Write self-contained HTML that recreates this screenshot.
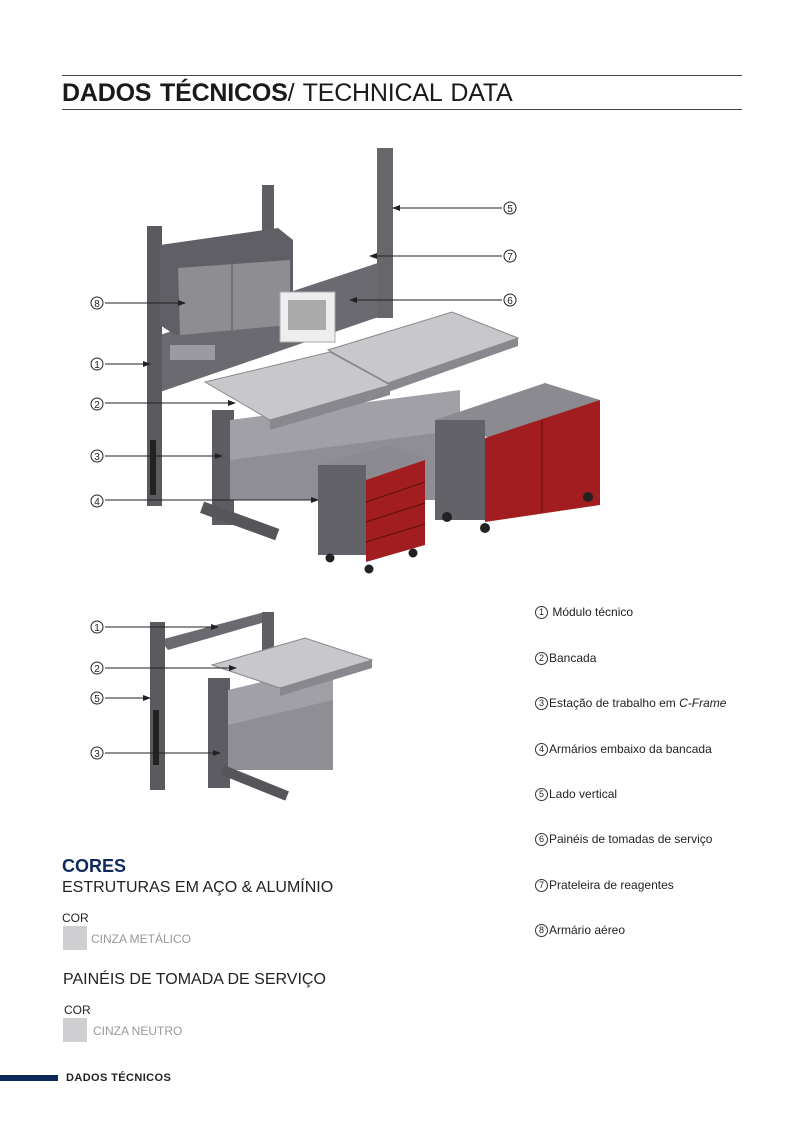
<!DOCTYPE html>
<html><head><meta charset="utf-8"><style>
body{margin:0;width:793px;height:1123px;background:#fff;position:relative;font-family:"Liberation Sans",sans-serif;overflow:hidden}
.a{position:absolute;white-space:nowrap}
.leg{font-size:12px;color:#222}
.c{display:inline-block;width:11px;height:11px;border:1px solid #333;border-radius:50%;font-size:9px;line-height:11px;text-align:center;vertical-align:middle;margin-right:1px}
</style></head><body>
<div class="a" style="left:62px;top:75px;width:680px;border-top:1.5px solid #444"></div>
<div class="a" style="left:62px;top:79px;font-size:25px;color:#1a1a1a;letter-spacing:-0.2px;word-spacing:2px"><b>DADOS TÉCNICOS</b>/ TECHNICAL DATA</div>
<div class="a" style="left:62px;top:109px;width:680px;border-top:1.5px solid #444"></div>

<svg class="a" style="left:0;top:0" width="793" height="1123">
<defs><marker id="ar" markerWidth="8" markerHeight="6" refX="7" refY="3" orient="auto"><path d="M0,0L8,3L0,6z" fill="#222"/></marker></defs>
<rect x="262" y="185" width="12" height="80" fill="#5d5d62"/>
<polygon points="160,335 393,258 393,312 160,392" fill="#6a6a70"/>
<rect x="147" y="226" width="15" height="280" fill="#5a5a5f"/>
<rect x="150" y="440" width="6" height="55" fill="#222"/>
<rect x="377" y="148" width="16" height="170" fill="#66666b"/>
<polygon points="160,245 278,228 293,240 293,325 175,335 160,325" fill="#5f5f65"/>
<polygon points="178,268 290,260 290,325 180,335" fill="#8d8d92"/>
<line x1="232" y1="264" x2="232" y2="330" stroke="#555"/>
<rect x="280" y="292" width="55" height="50" fill="#eee" stroke="#aaa"/>
<rect x="288" y="300" width="38" height="30" fill="#aaa"/>
<rect x="170" y="345" width="45" height="15" fill="#9a9aa0"/>
<rect x="212" y="410" width="22" height="115" fill="#5c5c62"/>
<rect x="230" y="420" width="230" height="80" fill="#8e8e94"/>
<polygon points="230,420 460,390 460,430 230,460" fill="#a0a0a6"/>
<rect x="200" y="515" width="80" height="12" fill="#55555a" transform="rotate(20 240 520)"/>
<polygon points="205,382 330,352 390,385 270,420" fill="#c8c8cc" stroke="#888"/>
<polygon points="328,350 452,312 518,338 388,383" fill="#c8c8cc" stroke="#888"/>
<polygon points="270,420 390,385 390,395 270,430" fill="#88888e"/>
<polygon points="388,383 518,338 518,346 388,392" fill="#88888e"/>
<polygon points="435,420 545,383 600,400 490,438" fill="#8a8a90"/>
<rect x="435" y="420" width="50" height="100" fill="#626268"/>
<polygon points="485,438 600,400 600,505 485,522" fill="#a21d1f"/>
<line x1="542" y1="420" x2="542" y2="513" stroke="#6a1010"/>
<circle cx="447" cy="517" r="5" fill="#222"/><circle cx="485" cy="528" r="5" fill="#222"/><circle cx="588" cy="497" r="5" fill="#222"/>
<polygon points="318,465 390,445 425,458 365,480" fill="#8a8a90"/>
<rect x="318" y="465" width="48" height="90" fill="#626268"/>
<polygon points="366,480 425,460 425,545 366,562" fill="#a21d1f"/>
<g stroke="#5a1010"><line x1="366" y1="502" x2="425" y2="482"/><line x1="366" y1="522" x2="425" y2="503"/><line x1="366" y1="542" x2="425" y2="524"/></g>
<circle cx="330" cy="558" r="4.5" fill="#222"/><circle cx="369" cy="569" r="4.5" fill="#222"/><circle cx="413" cy="553" r="4.5" fill="#222"/>
<polygon points="160,640 265,612 272,620 168,650" fill="#6a6a70"/>
<rect x="262" y="612" width="12" height="85" fill="#5d5d62"/>
<rect x="150" y="622" width="15" height="168" fill="#5a5a5f"/>
<rect x="153" y="710" width="6" height="55" fill="#222"/>
<rect x="208" y="678" width="22" height="110" fill="#5c5c62"/>
<rect x="228" y="690" width="105" height="80" fill="#8e8e94"/>
<polygon points="228,690 333,665 333,700 228,725" fill="#a0a0a6"/>
<rect x="220" y="778" width="70" height="10" fill="#55555a" transform="rotate(22 255 782)"/>
<polygon points="212,665 305,638 372,660 280,688" fill="#c8c8cc" stroke="#888"/>
<polygon points="280,688 372,660 372,668 280,696" fill="#88888e"/>
<g stroke="#222" stroke-width="1" fill="none" marker-end="url(#ar)">
<line x1="105" y1="303" x2="185" y2="303"/>
<line x1="105" y1="364" x2="150" y2="364"/>
<line x1="105" y1="403" x2="235" y2="403"/>
<line x1="105" y1="456" x2="222" y2="456"/>
<line x1="105" y1="500" x2="318" y2="500"/>
<line x1="502" y1="208" x2="393" y2="208"/>
<line x1="502" y1="256" x2="370" y2="256"/>
<line x1="502" y1="300" x2="350" y2="300"/>
<line x1="105" y1="627" x2="218" y2="627"/>
<line x1="105" y1="668" x2="236" y2="668"/>
<line x1="105" y1="698" x2="150" y2="698"/>
<line x1="105" y1="753" x2="220" y2="753"/>
</g>
<g font-family="Liberation Sans" font-size="10" text-anchor="middle" fill="#222">
<g fill="#fff" stroke="#222"><circle cx="97" cy="303" r="6"/><circle cx="97" cy="364" r="6"/><circle cx="97" cy="404" r="6"/><circle cx="97" cy="456" r="6"/><circle cx="97" cy="501" r="6"/><circle cx="510" cy="208" r="6"/><circle cx="510" cy="256" r="6"/><circle cx="510" cy="300" r="6"/><circle cx="97" cy="627" r="6"/><circle cx="97" cy="668" r="6"/><circle cx="97" cy="698" r="6"/><circle cx="97" cy="753" r="6"/></g>
<text x="97" y="307">8</text><text x="97" y="368">1</text><text x="97" y="408">2</text><text x="97" y="460">3</text><text x="97" y="505">4</text><text x="510" y="212">5</text><text x="510" y="260">7</text><text x="510" y="304">6</text><text x="97" y="631">1</text><text x="97" y="672">2</text><text x="97" y="702">5</text><text x="97" y="757">3</text>
</g>
</svg>

<div class="a leg" style="left:535px;top:605px"><span class="c">1</span> Módulo técnico</div>
<div class="a leg" style="left:535px;top:651px"><span class="c">2</span>Bancada</div>
<div class="a leg" style="left:535px;top:696px"><span class="c">3</span>Estação de trabalho em <i>C-Frame</i></div>
<div class="a leg" style="left:535px;top:742px"><span class="c">4</span>Armários embaixo da bancada</div>
<div class="a leg" style="left:535px;top:787px"><span class="c">5</span>Lado vertical</div>
<div class="a leg" style="left:535px;top:832px"><span class="c">6</span>Painéis de tomadas de serviço</div>
<div class="a leg" style="left:535px;top:878px"><span class="c">7</span>Prateleira de reagentes</div>
<div class="a leg" style="left:535px;top:923px"><span class="c">8</span>Armário aéreo</div>

<div class="a" style="left:62px;top:856px;font-size:18px;font-weight:bold;color:#0d2a5c">CORES</div>
<div class="a" style="left:62px;top:879px;font-size:16px;color:#222">ESTRUTURAS EM AÇO &amp; ALUMÍNIO</div>
<div class="a" style="left:62px;top:911px;font-size:12px;color:#222">COR</div>
<div class="a" style="left:63px;top:926px;width:24px;height:24px;background:#cfcfd1"></div>
<div class="a" style="left:91px;top:932px;font-size:12px;color:#999">CINZA METÁLICO</div>
<div class="a" style="left:63px;top:971px;font-size:16px;color:#222">PAINÉIS DE TOMADA DE SERVIÇO</div>
<div class="a" style="left:64px;top:1003px;font-size:12px;color:#222">COR</div>
<div class="a" style="left:63px;top:1018px;width:24px;height:24px;background:#cfcfd1"></div>
<div class="a" style="left:93px;top:1024px;font-size:12px;color:#999">CINZA NEUTRO</div>
<div class="a" style="left:0;top:1075px;width:58px;height:6px;background:#0d2a5c"></div>
<div class="a" style="left:66px;top:1072px;font-size:11px;font-weight:bold;color:#222;letter-spacing:0.4px">DADOS TÉCNICOS</div>
</body></html>
